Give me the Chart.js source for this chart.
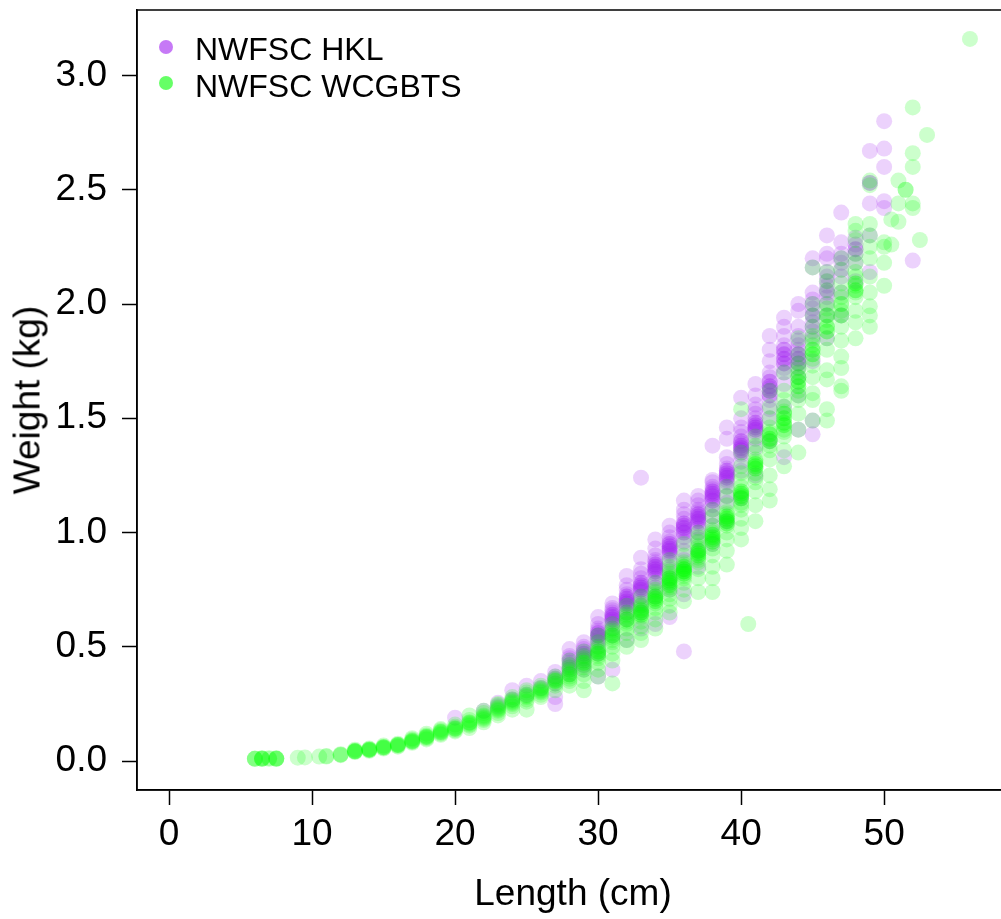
<!DOCTYPE html>
<html>
<head>
<meta charset="utf-8">
<script src="https://cdn.jsdelivr.net/npm/chart.js@4.4.0/dist/chart.umd.min.js"></script>
<style>
  html, body { margin: 0; padding: 0; background: #fff; overflow: hidden; }
  #wrap { position: relative; width: 1010px; height: 919px; }
  #chart { position: absolute; left: 0; top: 0; }
  .txt { position: absolute; font-family: "Liberation Sans", Arial, sans-serif; color: #000; line-height: 1; white-space: nowrap; }
  .dot { position: absolute; width: 14px; height: 14px; border-radius: 50%; }
</style>
</head>
<body>
<div id="wrap">
  <canvas id="chart" width="1010" height="919"></canvas>
  <div class="dot" style="left:159px;top:40px;background:rgba(160,32,240,0.6)"></div>
  <div class="txt" style="left:195px;top:33px;font-size:32px">NWFSC HKL</div>
  <div class="dot" style="left:159px;top:76px;background:rgba(0,255,0,0.6)"></div>
  <div class="txt" style="left:195px;top:70px;font-size:32px">NWFSC WCGBTS</div>
  <div class="txt" style="left:573px;top:874px;font-size:37px;transform:translateX(-50%)">Length (cm)</div>
  <div class="txt" style="left:27px;top:400px;font-size:37px;transform:translate(-50%,-50%) rotate(-90deg)">Weight (kg)</div>
</div>
<script>
"use strict";
// length classes (cm) and the weights (kg) read at each one
const hklLengths = [20, 22, 23, 24, 25, 26, 27, 28, 29, 30, 31, 32, 33, 34, 35, 36, 37, 38, 39, 40,
  41, 42, 43, 44, 45, 46, 47, 48, 49, 50, 52];
const hklWeights = [
  [0.19], [0.22], [0.24, 0.255], [0.27, 0.31], [0.29, 0.33], [0.32, 0.35],
  [0.25, 0.28, 0.34, 0.36, 0.37, 0.39],
  [0.38, 0.4, 0.41, 0.42, 0.43, 0.44, 0.45, 0.46, 0.49],
  [0.4, 0.42, 0.44, 0.45, 0.46, 0.47, 0.47, 0.48, 0.49, 0.5, 0.52],
  [0.37, 0.47, 0.5, 0.52, 0.53, 0.54, 0.55, 0.55, 0.55, 0.56, 0.56, 0.57, 0.58, 0.6, 0.63],
  [0.4, 0.55, 0.58, 0.6, 0.61, 0.62, 0.62, 0.63, 0.63, 0.64, 0.64, 0.65, 0.66, 0.67, 0.69],
  [0.53, 0.62, 0.65, 0.67, 0.68, 0.69, 0.69, 0.7, 0.7, 0.71, 0.71, 0.72, 0.72, 0.73, 0.75, 0.77, 0.81],
  [0.58, 0.65, 0.68, 0.7, 0.72, 0.74, 0.75, 0.75, 0.76, 0.76, 0.77, 0.77, 0.78, 0.78, 0.8, 0.82, 0.84, 0.89, 1.24],
  [0.6, 0.72, 0.76, 0.78, 0.8, 0.82, 0.83, 0.83, 0.84, 0.84, 0.85, 0.85, 0.86, 0.86, 0.87, 0.88, 0.9, 0.93, 0.97],
  [0.63, 0.75, 0.8, 0.84, 0.87, 0.9, 0.91, 0.92, 0.92, 0.93, 0.93, 0.94, 0.94, 0.95, 0.95, 0.96, 0.98, 1.0, 1.03],
  [0.48, 0.73, 0.88, 0.92, 0.96, 0.98, 1.0, 1.0, 1.01, 1.02, 1.02, 1.03, 1.03, 1.04, 1.04, 1.06, 1.08, 1.1, 1.14],
  [0.85, 0.92, 0.97, 1.0, 1.02, 1.04, 1.05, 1.05, 1.06, 1.06, 1.07, 1.07, 1.08, 1.08, 1.09, 1.1, 1.12, 1.14, 1.16],
  [0.95, 1.03, 1.07, 1.1, 1.12, 1.14, 1.14, 1.15, 1.16, 1.16, 1.17, 1.17, 1.18, 1.18, 1.19, 1.2, 1.22, 1.23, 1.38],
  [1.05, 1.13, 1.16, 1.2, 1.22, 1.23, 1.24, 1.24, 1.25, 1.25, 1.26, 1.26, 1.27, 1.27, 1.28, 1.3, 1.33, 1.41, 1.46],
  [1.15, 1.27, 1.31, 1.34, 1.35, 1.36, 1.36, 1.37, 1.37, 1.38, 1.38, 1.39, 1.4, 1.4, 1.42, 1.44, 1.46, 1.5, 1.59],
  [1.25, 1.37, 1.41, 1.44, 1.45, 1.45, 1.46, 1.46, 1.47, 1.47, 1.48, 1.48, 1.5, 1.52, 1.54, 1.56, 1.6, 1.65],
  [1.4, 1.5, 1.54, 1.58, 1.6, 1.6, 1.62, 1.62, 1.63, 1.64, 1.64, 1.66, 1.66, 1.68, 1.7, 1.75, 1.8, 1.86],
  [1.33, 1.55, 1.65, 1.7, 1.72, 1.74, 1.74, 1.76, 1.76, 1.78, 1.78, 1.8, 1.8, 1.82, 1.86, 1.9, 1.94],
  [1.45, 1.6, 1.68, 1.72, 1.74, 1.74, 1.76, 1.76, 1.78, 1.78, 1.8, 1.82, 1.84, 1.86, 1.9, 1.97, 2.0],
  [1.43, 1.49, 1.75, 1.85, 1.88, 1.9, 1.92, 1.95, 1.95, 1.98, 2.0, 2.02, 2.05, 2.16, 2.2],
  [1.85, 1.95, 2.0, 2.03, 2.05, 2.06, 2.08, 2.1, 2.12, 2.14, 2.2, 2.22, 2.3],
  [1.95, 2.05, 2.12, 2.15, 2.18, 2.2, 2.22, 2.27, 2.4],
  [2.1, 2.18, 2.22, 2.24, 2.24, 2.26, 2.29],
  [2.14, 2.3, 2.44, 2.53, 2.53, 2.67],
  [2.42, 2.45, 2.6, 2.68, 2.8],
  [2.19]
];

const wcgLengths = [6, 6.5, 7, 7.5, 9, 9.5, 10.5, 11, 12, 13, 14, 15, 16, 17, 18, 19, 20, 21, 22, 23,
  24, 25, 26, 27, 28, 29, 30, 31, 32, 33, 34, 35, 36, 37, 38, 39, 40, 40.5, 41, 42, 43, 44, 45, 46,
  47, 48, 49, 50, 50.5, 51, 51.5, 52, 52.5, 53, 56];
const wcgWeights = [
  [0.01, 0.01, 0.011], [0.01, 0.01, 0.012, 0.011], [0.01, 0.012], [0.01, 0.012, 0.011, 0.01],
  [0.015], [0.016], [0.02], [0.022, 0.02], [0.028, 0.03, 0.026],
  [0.04, 0.043, 0.044, 0.045, 0.042, 0.05],
  [0.045, 0.048, 0.05, 0.05, 0.052, 0.055],
  [0.055, 0.058, 0.06, 0.061, 0.063, 0.068],
  [0.063, 0.067, 0.07, 0.071, 0.072, 0.076],
  [0.08, 0.084, 0.086, 0.088, 0.09, 0.095, 0.1],
  [0.095, 0.1, 0.104, 0.106, 0.108, 0.112, 0.12],
  [0.115, 0.12, 0.125, 0.127, 0.13, 0.135, 0.14],
  [0.13, 0.135, 0.14, 0.142, 0.145, 0.15, 0.16],
  [0.145, 0.155, 0.16, 0.165, 0.168, 0.17, 0.18, 0.2],
  [0.17, 0.18, 0.185, 0.19, 0.195, 0.2, 0.21, 0.22],
  [0.2, 0.21, 0.22, 0.225, 0.23, 0.235, 0.245, 0.25],
  [0.225, 0.24, 0.25, 0.255, 0.26, 0.265, 0.27, 0.28],
  [0.225, 0.26, 0.27, 0.28, 0.285, 0.29, 0.3, 0.31],
  [0.28, 0.29, 0.3, 0.305, 0.31, 0.315, 0.32, 0.33],
  [0.31, 0.33, 0.34, 0.35, 0.35, 0.355, 0.36, 0.37],
  [0.33, 0.35, 0.36, 0.37, 0.38, 0.38, 0.39, 0.4, 0.41, 0.42, 0.44],
  [0.31, 0.35, 0.38, 0.4, 0.41, 0.42, 0.43, 0.43, 0.44, 0.45, 0.46, 0.48],
  [0.37, 0.4, 0.43, 0.45, 0.46, 0.47, 0.47, 0.48, 0.48, 0.49, 0.5, 0.52, 0.55],
  [0.34, 0.44, 0.47, 0.5, 0.52, 0.53, 0.54, 0.55, 0.55, 0.56, 0.57, 0.58, 0.6],
  [0.5, 0.53, 0.56, 0.58, 0.6, 0.61, 0.62, 0.62, 0.63, 0.64, 0.65, 0.68],
  [0.53, 0.56, 0.59, 0.61, 0.63, 0.64, 0.64, 0.65, 0.65, 0.66, 0.66, 0.67, 0.68, 0.69, 0.72],
  [0.58, 0.62, 0.65, 0.67, 0.69, 0.7, 0.7, 0.71, 0.71, 0.72, 0.72, 0.73, 0.74, 0.75, 0.78],
  [0.65, 0.68, 0.71, 0.73, 0.75, 0.76, 0.77, 0.77, 0.78, 0.78, 0.79, 0.79, 0.8, 0.8, 0.81, 0.82, 0.83, 0.85, 0.88],
  [0.7, 0.75, 0.78, 0.8, 0.81, 0.82, 0.82, 0.83, 0.83, 0.83, 0.84, 0.84, 0.84, 0.85, 0.85, 0.86, 0.87, 0.9, 0.95],
  [0.74, 0.8, 0.84, 0.87, 0.88, 0.89, 0.9, 0.9, 0.91, 0.91, 0.92, 0.92, 0.93, 0.94, 0.96, 0.98, 1.0],
  [0.74, 0.8, 0.85, 0.9, 0.93, 0.95, 0.96, 0.96, 0.97, 0.97, 0.98, 0.98, 0.99, 0.99, 1.0, 1.01, 1.03, 1.07, 1.1],
  [0.86, 0.92, 0.97, 1.0, 1.03, 1.04, 1.04, 1.05, 1.05, 1.06, 1.06, 1.07, 1.07, 1.08, 1.09, 1.12, 1.16, 1.2],
  [0.97, 1.02, 1.06, 1.1, 1.12, 1.13, 1.15, 1.15, 1.16, 1.16, 1.17, 1.17, 1.18, 1.18, 1.2, 1.23, 1.26, 1.29, 1.35, 1.54],
  [0.6],
  [1.05, 1.12, 1.18, 1.22, 1.24, 1.26, 1.28, 1.28, 1.29, 1.29, 1.3, 1.3, 1.31, 1.32, 1.35, 1.38, 1.42],
  [1.14, 1.19, 1.25, 1.32, 1.36, 1.38, 1.4, 1.4, 1.41, 1.41, 1.43, 1.43, 1.44, 1.46, 1.5, 1.55, 1.62],
  [1.29, 1.36, 1.42, 1.44, 1.45, 1.47, 1.47, 1.48, 1.48, 1.5, 1.5, 1.52, 1.52, 1.53, 1.55, 1.58, 1.62, 1.7],
  [1.35, 1.45, 1.52, 1.58, 1.6, 1.62, 1.64, 1.64, 1.66, 1.66, 1.68, 1.68, 1.7, 1.72, 1.74, 1.78, 1.85],
  [1.49, 1.58, 1.61, 1.68, 1.73, 1.76, 1.78, 1.78, 1.8, 1.8, 1.82, 1.84, 1.86, 1.9, 1.95, 2.0, 2.16],
  [1.49, 1.54, 1.67, 1.71, 1.8, 1.85, 1.88, 1.88, 1.9, 1.9, 1.93, 1.95, 1.95, 1.98, 2.0, 2.06, 2.1, 2.14],
  [1.62, 1.64, 1.72, 1.77, 1.84, 1.9, 1.95, 1.95, 1.97, 2.0, 2.0, 2.03, 2.05, 2.09, 2.15, 2.2],
  [1.85, 1.92, 1.97, 2.03, 2.05, 2.06, 2.06, 2.08, 2.09, 2.09, 2.12, 2.14, 2.18, 2.22, 2.28, 2.32, 2.35],
  [1.9, 1.95, 1.99, 2.05, 2.12, 2.2, 2.25, 2.3, 2.35, 2.52, 2.54],
  [2.08, 2.18, 2.25, 2.27],
  [2.26, 2.37],
  [2.36, 2.44, 2.54],
  [2.5, 2.5],
  [2.42, 2.44, 2.6, 2.66, 2.86],
  [2.28],
  [2.74],
  [3.16]
];

const xTicks = [0, 10, 20, 30, 40, 50];
const yTicks = [0, 0.5, 1, 1.5, 2, 2.5, 3];

const FONT = "'Liberation Sans', Arial, sans-serif";

function toPoints(lengths, weights) {
  const pts = [];
  lengths.forEach((len, i) => {
    weights[i].forEach((w) => pts.push({ x: len, y: w }));
  });
  return pts;
}

// R style box round the plot region
const boxPlugin = {
  id: "box",
  afterDraw(chart) {
    const { ctx, chartArea } = chart;
    ctx.save();
    ctx.strokeStyle = "#000";
    ctx.lineWidth = 1.5;
    ctx.strokeRect(chartArea.left, chartArea.top, chartArea.right - chartArea.left, chartArea.bottom - chartArea.top);
    ctx.restore();
  },
};

const ctx = document.querySelector("#chart").getContext("2d");
new Chart(ctx, {
  type: "scatter",
  data: {
    datasets: [
      {
        label: "NWFSC HKL",
        data: toPoints(hklLengths, hklWeights),
        backgroundColor: "rgba(160, 32, 240, 0.2)",
        borderWidth: 0,
        pointRadius: 8,
        pointHoverRadius: 8,
        order: 1,
      },
      {
        label: "NWFSC WCGBTS",
        data: toPoints(wcgLengths, wcgWeights),
        backgroundColor: "rgba(0, 255, 0, 0.2)",
        borderWidth: 0,
        pointRadius: 8,
        pointHoverRadius: 8,
        order: 0,
      },
    ],
  },
  options: {
    responsive: false,
    animation: false,
    layout: { padding: { top: 10, left: 0, right: 0, bottom: 0 } },
    plugins: { legend: { display: false }, tooltip: { enabled: false } },
    scales: {
      x: {
        type: "linear",
        min: -2.24,
        max: 58.24,
        afterBuildTicks: (s) => { s.ticks = xTicks.map((v) => ({ value: v })); },
        afterFit: (s) => { s.height = 129; s.paddingLeft = 0; s.paddingRight = 0; },
        grid: { drawOnChartArea: false, tickLength: 15, tickColor: "#000", tickWidth: 1.5 },
        border: { color: "#000", width: 1.5 },
        ticks: { color: "#000", font: { family: FONT, size: 37 }, padding: 8, maxRotation: 0, autoSkip: false,
          callback: (v) => String(v) },
      },
      y: {
        type: "linear",
        min: -0.1264,
        max: 3.2864,
        afterBuildTicks: (s) => { s.ticks = yTicks.map((v) => ({ value: v })); },
        afterFit: (s) => { s.width = 137; s.paddingTop = 0; s.paddingBottom = 0; },
        grid: { drawOnChartArea: false, tickLength: 15, tickColor: "#000", tickWidth: 1.5 },
        border: { color: "#000", width: 1.5 },
        ticks: { color: "#000", font: { family: FONT, size: 37 }, padding: 15, autoSkip: false,
          callback: (v) => v.toFixed(1) },
      },
    },
  },
  plugins: [boxPlugin],
});
</script>
</body>
</html>
